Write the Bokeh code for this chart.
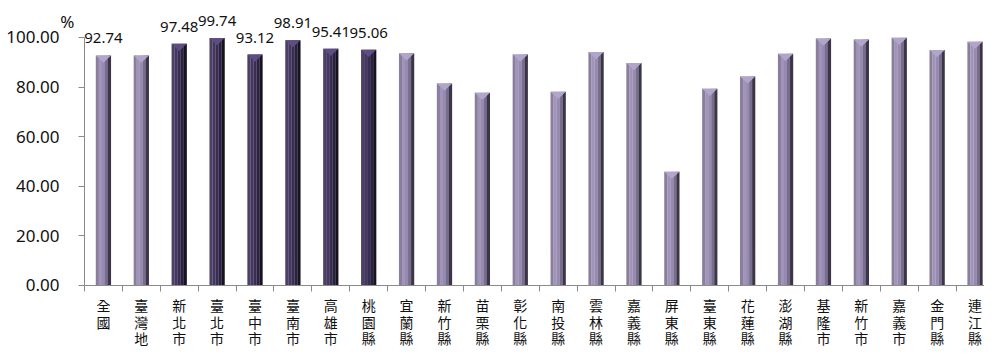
import numpy as np
from bokeh.plotting import figure
from bokeh.models import (ColumnDataSource, Range1d, FixedTicker, NumeralTickFormatter,
                          Label, LinearAxis)
from bokeh.transform import dodge
from bokeh.core.properties import value
from bokeh.embed import file_html
from bokeh.resources import INLINE

categories = ["全國", "臺灣地", "新北市", "臺北市", "臺中市", "臺南市", "高雄市", "桃園縣",
              "宜蘭縣", "新竹縣", "苗栗縣", "彰化縣", "南投縣", "雲林縣", "嘉義縣", "屏東縣",
              "臺東縣", "花蓮縣", "澎湖縣", "基隆市", "新竹市", "嘉義市", "金門縣", "連江縣"]
values = [92.74, 92.70, 97.48, 99.74, 93.12, 98.91, 95.41, 95.06,
          93.6, 81.4, 77.7, 93.1, 78.1, 94.1, 89.7, 45.9,
          79.3, 84.3, 93.4, 99.6, 99.2, 99.9, 94.9, 98.3]
municipal = [False, False, True, True, True, True, True, True,
             False, False, False, False, False, False, False, False,
             False, False, False, False, False, False, False, False]
label_text = ["92.74", "", "97.48", "99.74", "93.12", "98.91", "95.41", "95.06",
              "", "", "", "", "", "", "", "",
              "", "", "", "", "", "", "", ""]
y_ticks = [0, 20, 40, 60, 80, 100]

n = len(categories)
xc = np.arange(n) + 0.5
light = ["#8a7e9f", "#a194b9", "#978aaf", "#786d8d", "#3b3545"]
dark = ["#4c3f6b", "#44385f", "#392e51", "#2a2240", "#18121f"]
tri_light, tri_dark = "#b2a5cb", "#5e4d83"

data = dict(x=xc, v=values, lab=label_text)
for k in range(5):
    data[f"c{k}"] = [dark[k] if m else light[k] for m in municipal]
data["tc"] = [tri_dark if m else tri_light for m in municipal]
bw = 0.4
data["txs"] = [[x - bw / 2, x + bw / 2, x] for x in xc]
data["tys"] = [[v, v, v - 2.9] for v in values]
src = ColumnDataSource(data)

p = figure(width=984, height=347, output_backend="svg", toolbar_location=None,
           x_range=Range1d(-2.216, 23.75), y_range=Range1d(-25.0, 114.9),
           x_axis_location=None, y_axis_location=None,
           min_border_left=0, min_border_right=0, min_border_top=0, min_border_bottom=0)
p.outline_line_color = None
p.grid.grid_line_color = None

sw = bw / 5
for k in range(5):
    p.vbar(x=dodge("x", -bw / 2 + sw * (k + 0.5)), top="v", bottom=0, width=sw * 1.04,
           source=src, fill_color=f"c{k}", line_color=None)
p.patches(xs="txs", ys="tys", source=src, fill_color="tc", line_color=None)

p.text(x="x", y="v", text="lab", source=src, text_align="center", text_baseline="bottom",
       y_offset=-12, text_font=value("Noto Sans"), text_font_size="15px", text_color="#111111")

axis_color = "#8a8a8a"
yax = LinearAxis(fixed_location=0, bounds=(0, 100),
                 ticker=FixedTicker(ticks=y_ticks),
                 formatter=NumeralTickFormatter(format="0.00"))
yax.axis_line_color = axis_color
yax.major_tick_line_color = axis_color
yax.major_tick_out = 6
yax.major_tick_in = 0
yax.minor_tick_line_color = None
yax.major_label_standoff = 19
yax.major_label_text_font = "Noto Sans"
yax.major_label_text_font_size = "17px"
yax.major_label_text_color = "#111111"
p.add_layout(yax, "left")

xax = LinearAxis(fixed_location=0, bounds=(0, n),
                 ticker=FixedTicker(ticks=list(xc), minor_ticks=list(range(n + 1))))
xax.major_label_overrides = {float(x): "\n".join(c) for x, c in zip(xc, categories)}
xax.axis_line_color = axis_color
xax.major_tick_line_color = None
xax.major_tick_out = 6
xax.major_tick_in = 0
xax.minor_tick_line_color = axis_color
xax.minor_tick_out = 6
xax.minor_tick_in = 0
xax.major_label_standoff = 4
xax.major_label_text_font = "Noto Sans CJK TC"
xax.major_label_text_font_size = "14px"
xax.major_label_text_color = "#111111"
xax.major_label_text_line_height = 0.82
p.add_layout(xax, "below")

p.add_layout(Label(x=-0.45, y=106.5, text="%", text_align="center", text_baseline="middle",
                   text_font="Noto Sans", text_font_size="17px", text_color="#111111"))

open("out.html", "w").write(file_html(p, INLINE))
